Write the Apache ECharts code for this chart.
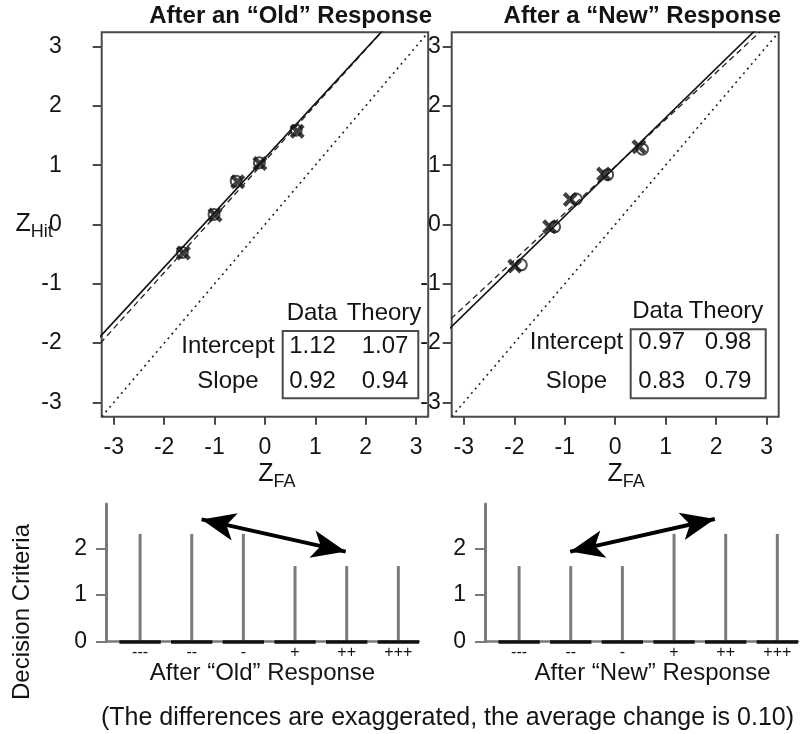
<!DOCTYPE html>
<html><head><meta charset="utf-8">
<script src="https://cdn.jsdelivr.net/npm/echarts@6/dist/echarts.min.js"></script>
<style>html,body{margin:0;padding:0;background:#fff}#c{width:808px;height:734px}</style>
</head><body><div id="c"></div>
<script>
// ---- data ----
const zTicks = [-3, -2, -1, 0, 1, 2, 3];
const oldDataPts = [[-1.62, -0.48], [-0.99, 0.16], [-0.54, 0.72], [-0.10, 1.03], [0.64, 1.57]];
const oldTheoryPts = [[-1.64, -0.47], [-1.01, 0.17], [-0.57, 0.73], [-0.11, 1.04], [0.62, 1.59]];
const newDataPts = [[-1.99, -0.70], [-1.30, -0.04], [-0.89, 0.42], [-0.23, 0.85], [0.47, 1.31]];
const newTheoryPts = [[-1.86, -0.68], [-1.20, -0.04], [-0.77, 0.43], [-0.15, 0.84], [0.54, 1.27]];
const oldIntercept = [1.12, 1.07];   // [Data, Theory]
const oldSlope = [0.92, 0.94];
const newIntercept = [0.97, 0.98];
const newSlope = [0.83, 0.79];
const tableCols = ['Data', 'Theory'];
const tableRows = ['Intercept', 'Slope'];
const critCats = ['---', '--', '-', '+', '++', '+++'];
const critTicks = [0, 1, 2];
const oldCrit = [2.31, 2.31, 2.31, 1.62, 1.62, 1.62];
const newCrit = [1.62, 1.62, 1.62, 2.31, 2.31, 2.31];
const oldArrow = [[1.19, 2.62], [3.98, 1.93]];
const newArrow = [[0.99, 1.93], [3.79, 2.63]];

// ---- styling ----
const FONT = '"Liberation Sans", Arial, Helvetica, sans-serif';
const TXT = '#141414';
const FRAME = '#4a4a4a';
const GRAYBAR = '#7a7a7a';
const ZMIN = -3.24, ZMAX = 3.24;

function fitLine(a, b) { return [[-3.4, a - 3.4 * b], [3.4, a + 3.4 * b]]; }

const xSymbol = 'path://M2,0 L5,3 L8,0 L10,2 L7,5 L10,8 L8,10 L5,7 L2,10 L0,8 L3,5 L0,2 Z';

const grids = [
  {left: 101.7, top: 32.3, width: 326.5, height: 384.4},
  {left: 451.7, top: 32.3, width: 327, height: 384.4},
  {left: 106, top: 504, width: 313, height: 137.7},
  {left: 485, top: 504, width: 313, height: 137.7}
].map((g, i) => Object.assign(g, {
  show: i < 2, borderColor: FRAME, borderWidth: 2, backgroundColor: 'transparent',
  outerBoundsMode: 'none', containLabel: false
}));

const zName = (sub) => '{z|Z}{s|' + sub + '}';
const zRich = {
  z: {fontSize: 25, fontFamily: FONT, color: TXT, lineHeight: 34},
  s: {fontSize: 18, fontFamily: FONT, color: TXT, verticalAlign: 'bottom', lineHeight: 34}
};

function topX(gi, padLeft) {
  return {
    gridIndex: gi, type: 'value', min: ZMIN, max: ZMAX,
    axisLine: {show: false, onZero: false}, splitLine: {show: false},
    axisTick: {show: true, customValues: zTicks, length: 8, lineStyle: {color: FRAME, width: 2}},
    axisLabel: {customValues: zTicks, margin: 19, fontSize: 23, fontFamily: FONT, color: TXT},
    name: zName('FA'), nameLocation: 'middle', nameGap: 40, nameMoveOverlap: false,
    nameTextStyle: {rich: zRich, padding: [0, 0, 0, padLeft]}
  };
}
function topY(gi, margin, withName) {
  const ax = {
    gridIndex: gi, type: 'value', min: ZMIN, max: ZMAX,
    axisLine: {show: false, onZero: false}, splitLine: {show: false},
    axisTick: {show: true, customValues: zTicks, length: 9, lineStyle: {color: FRAME, width: 2}},
    axisLabel: {customValues: zTicks, margin: margin, fontSize: 23, fontFamily: FONT, color: TXT}
  };
  if (withName) {
    Object.assign(ax, {name: zName('Hit'), nameLocation: 'middle', nameRotate: 0, nameGap: 49,
      nameMoveOverlap: false, nameTextStyle: {rich: zRich}});
  }
  return ax;
}
function botX(gi, name, padLeft) {
  return {
    gridIndex: gi, type: 'value', min: -0.66, max: 5.4,
    axisLine: {show: true, onZero: false, lineStyle: {color: GRAYBAR, width: 2.5}},
    axisTick: {show: false}, splitLine: {show: false},
    axisLabel: {customValues: [0, 1, 2, 3, 4, 5], formatter: v => critCats[Math.round(v)],
      margin: 3, fontSize: 16, fontFamily: FONT, color: TXT},
    name: name, nameLocation: 'middle', nameGap: 20, nameMoveOverlap: false,
    nameTextStyle: {fontSize: 24, fontFamily: FONT, color: TXT, padding: [0, 0, 0, padLeft]}
  };
}
function botY(gi) {
  return {
    gridIndex: gi, type: 'value', min: 0, max: 2.95,
    axisLine: {show: true, onZero: false, lineStyle: {color: GRAYBAR, width: 3}},
    axisTick: {show: true, customValues: critTicks, length: 10, lineStyle: {color: GRAYBAR, width: 2}},
    axisLabel: {customValues: critTicks, margin: 19, fontSize: 23, fontFamily: FONT, color: TXT},
    splitLine: {show: false}
  };
}

function topSeries(idx, dataPts, theoryPts, icpt, slope) {
  return [
    {type: 'line', xAxisIndex: idx, yAxisIndex: idx, data: [[ZMIN, ZMIN], [ZMAX, ZMAX]], symbol: 'none',
      lineStyle: {color: '#222', width: 1.6, type: [2, 4]}, silent: true, clip: true},
    {type: 'line', xAxisIndex: idx, yAxisIndex: idx, data: fitLine(icpt[1], slope[1]), symbol: 'none',
      lineStyle: {color: '#222', width: 1.3, type: [6, 4]}, silent: true, clip: true},
    {type: 'line', xAxisIndex: idx, yAxisIndex: idx, data: fitLine(icpt[0], slope[0]), symbol: 'none',
      lineStyle: {color: '#111', width: 1.6}, silent: true, clip: true},
    {type: 'scatter', xAxisIndex: idx, yAxisIndex: idx, data: theoryPts, symbol: 'circle', symbolSize: 11,
      itemStyle: {color: 'transparent', borderColor: '#222', borderWidth: 2}, silent: true},
    {type: 'scatter', xAxisIndex: idx, yAxisIndex: idx, data: dataPts, symbol: xSymbol, symbolSize: 15,
      itemStyle: {color: '#111'}, silent: true}
  ];
}

function botSeries(idx, crit, arrow) {
  const segs = critCats.map((c, i) => [{coord: [i - 0.4, 0]}, {coord: [i + 0.4, 0]}]);
  segs.push([
    {coord: arrow[0], symbol: 'arrow', symbolSize: [21, 34], lineStyle: {width: 4, color: '#000'}},
    {coord: arrow[1], symbol: 'arrow', symbolSize: [21, 34]}
  ]);
  return [{
    type: 'bar', xAxisIndex: idx, yAxisIndex: idx, barWidth: 3,
    data: crit.map((v, i) => [i, v]), itemStyle: {color: GRAYBAR}, silent: true,
    markLine: {silent: true, symbol: ['none', 'none'], label: {show: false},
      lineStyle: {color: '#111', width: 3.5, type: 'solid'}, emphasis: {disabled: true}, data: segs}
  }];
}

function tableGraphics(t) {
  const els = [];
  const ts = (text, x, y) => ({type: 'text', x: x, y: y, silent: true,
    style: {text: text, fontSize: 24, fontFamily: FONT, fill: TXT, align: 'center', verticalAlign: 'middle'}});
  els.push(ts(tableCols[0], t.colX[0], t.headY));
  els.push(ts(tableCols[1], t.colX[1], t.headY));
  els.push(ts(tableRows[0], t.rowLabelX, t.rowY[0]));
  els.push(ts(tableRows[1], t.rowLabelX, t.rowY[1]));
  t.vals.forEach((row, r) => row.forEach((v, c) => els.push(ts(v.toFixed(2), t.valX[c], t.rowY[r]))));
  els.push({type: 'rect', silent: true, shape: t.box,
    style: {fill: 'none', stroke: FRAME, lineWidth: 2}});
  return els;
}

const oldTable = {colX: [312, 384], headY: 313, rowLabelX: 228, rowY: [346.5, 381], valX: [312.5, 385],
  box: {x: 282.7, y: 331, width: 135.6, height: 67.3},
  vals: [[oldIntercept[0], oldIntercept[1]], [oldSlope[0], oldSlope[1]]]};
const newTable = {colX: [657.5, 726], headY: 311.7, rowLabelX: 576.5, rowY: [342.7, 381], valX: [661.7, 728],
  box: {x: 630.7, y: 329.3, width: 135, height: 69},
  vals: [[newIntercept[0], newIntercept[1]], [newSlope[0], newSlope[1]]]};

const chart = echarts.init(document.getElementById('c'), null, {renderer: 'canvas'});
chart.setOption({
  animation: false,
  backgroundColor: '#fff',
  textStyle: {fontFamily: FONT},
  title: [
    {text: 'After an \u201cOld\u201d Response', right: 808 - 432, top: 4, padding: 0,
      textStyle: {fontSize: 24, fontWeight: 'bold', fontFamily: FONT, color: TXT}},
    {text: 'After a \u201cNew\u201d Response', right: 808 - 781, top: 4, padding: 0,
      textStyle: {fontSize: 24, fontWeight: 'bold', fontFamily: FONT, color: TXT}},
    {text: '(The differences are exaggerated, the average change is 0.10)', left: 101, top: 706, padding: 0,
      textStyle: {fontSize: 25, fontWeight: 'normal', fontFamily: FONT, color: TXT}}
  ],
  grid: grids,
  xAxis: [topX(0, 24), topX(1, 22), botX(2, 'After \u201cOld\u201d Response', 0), botX(3, 'After \u201cNew\u201d Response', 22)],
  yAxis: [topY(0, 40, true), topY(1, 11, false), botY(2), botY(3)],
  series: [].concat(
    topSeries(0, oldDataPts, oldTheoryPts, oldIntercept, oldSlope),
    topSeries(1, newDataPts, newTheoryPts, newIntercept, newSlope),
    botSeries(2, oldCrit, oldArrow),
    botSeries(3, newCrit, newArrow)
  ),
  graphic: [].concat(tableGraphics(oldTable), tableGraphics(newTable), [
    {type: 'text', x: 22, y: 612, rotation: Math.PI / 2, silent: true,
      style: {text: 'Decision Criteria', fontSize: 24, fontFamily: FONT, fill: TXT, align: 'center', verticalAlign: 'middle'}}
  ])
});
</script>
</body></html>
